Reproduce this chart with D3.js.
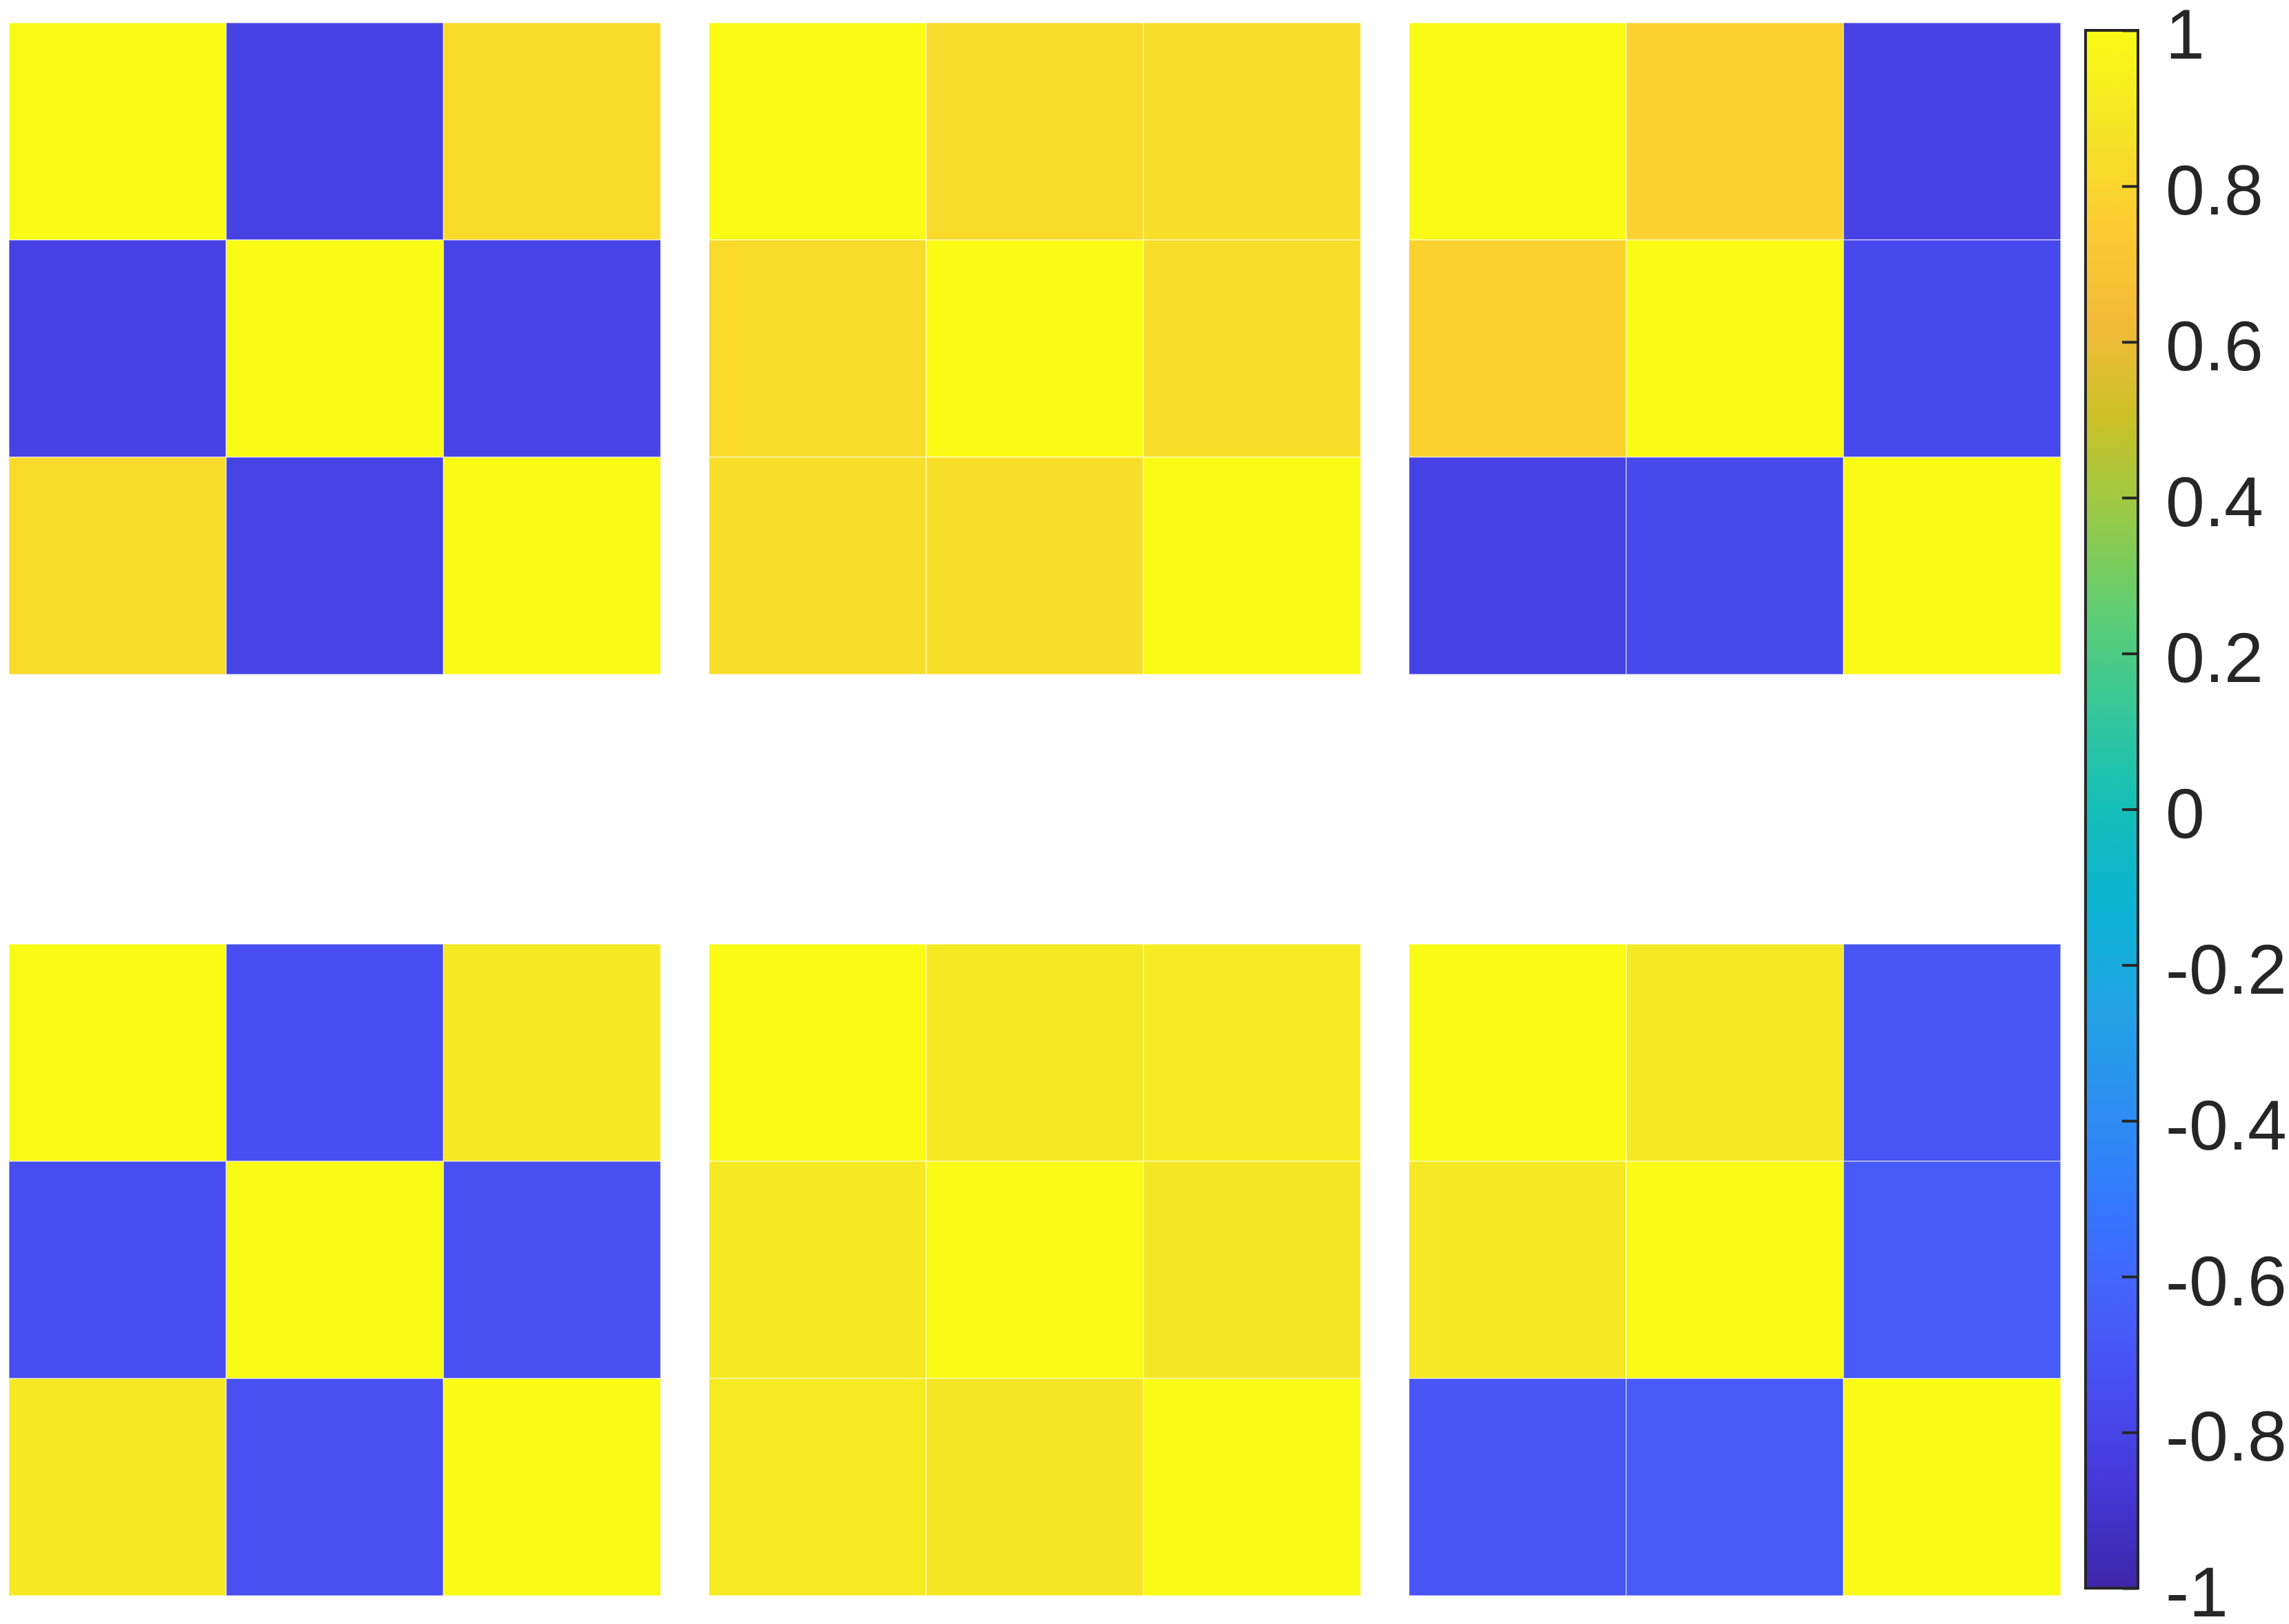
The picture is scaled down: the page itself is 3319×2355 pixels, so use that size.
<!DOCTYPE html>
<html>
<head>
<meta charset="utf-8">
<script src="https://cdn.jsdelivr.net/npm/d3@7"></script>
<style>
  body { margin: 0; background: #fff; }
  svg { display: block; }
</style>
</head>
<body>
<div id="chart"></div>
<script>
'use strict';

// correlation matrices (row by row)
const topLeft     = [[1, -0.81, 0.82], [-0.81, 1, -0.80], [0.82, -0.80, 1]];
const topMid      = [[1, 0.82, 0.84], [0.82, 1, 0.84], [0.84, 0.84, 1]];
const topRight    = [[1, 0.78, -0.81], [0.78, 1, -0.77], [-0.81, -0.77, 1]];
const bottomLeft  = [[1, -0.74, 0.90], [-0.74, 1, -0.73], [0.90, -0.73, 1]];
const bottomMid   = [[1, 0.90, 0.91], [0.90, 1, 0.88], [0.91, 0.88, 1]];
const bottomRight = [[1, 0.89, -0.70], [0.89, 1, -0.67], [-0.70, -0.67, 1]];

const panels = [topLeft, topMid, topRight, bottomLeft, bottomMid, bottomRight];

const colorbarTicks = [-1, -0.8, -0.6, -0.4, -0.2, 0, 0.2, 0.4, 0.6, 0.8, 1];
const tickLabels = ["-1", "-0.8", "-0.6", "-0.4", "-0.2", "0", "0.2", "0.4", "0.6", "0.8", "1"];

// parula colormap, sampled every 16th entry
const parula = ["#3e26a8", "#4537d5", "#484cf0", "#4562fc", "#337afd", "#2c90f0",
  "#21a3e3", "#0bb3d2", "#14beb8", "#35c79b", "#5ecd74", "#96ca48",
  "#cbc128", "#f3ba39", "#fdcb32", "#f5e526", "#f9fb15"];

const width = 3319, height = 2355;

const svg = d3.select("#chart")
  .append("svg")
    .attr("width", width)
    .attr("height", height);

const color = d3.scaleLinear()
  .domain(parula.map((c, i) => -1 + 2 * i / (parula.length - 1)))
  .range(parula)
  .clamp(true);

// panel grid: 3 columns, 2 rows
const colX = d3.scaleBand().domain([0, 1, 2]).range([13, 2988]).paddingInner(0.069);
const rowY = d3.scaleBand().domain([0, 1]).range([33, 2314]).paddingInner(0.2927);
const cell = d3.scaleBand().domain([0, 1, 2]).range([0, colX.bandwidth()]);

panels.forEach(function (m, p) {
  const g = svg.append("g")
    .attr("transform", "translate(" + colX(p % 3) + "," + rowY(Math.floor(p / 3)) + ")");

  const cells = [];
  m.forEach((row, r) => row.forEach((v, c) => cells.push({r: r, c: c, v: v})));

  g.selectAll("rect")
    .data(cells)
    .enter()
    .append("rect")
      .attr("x", d => cell(d.c))
      .attr("y", d => cell(d.r))
      .attr("width", cell.bandwidth())
      .attr("height", cell.bandwidth())
      .attr("fill", d => color(d.v))
      .attr("stroke", "rgba(255,255,255,0.55)")
      .attr("stroke-width", 1.5);
});

// colorbar
const cbX = 3024, cbW = 76;
const cbY = d3.scaleLinear().domain([-1, 1]).range([2303, 44]);

const grad = svg.append("defs").append("linearGradient")
  .attr("id", "parula")
  .attr("x1", 0).attr("y1", 1)
  .attr("x2", 0).attr("y2", 0);
grad.selectAll("stop")
  .data(parula)
  .enter()
  .append("stop")
    .attr("offset", (d, i) => i / (parula.length - 1))
    .attr("stop-color", d => d);

svg.append("rect")
  .attr("x", cbX)
  .attr("y", cbY(1))
  .attr("width", cbW)
  .attr("height", cbY(-1) - cbY(1))
  .attr("fill", "url(#parula)");

const axis = svg.append("g")
  .attr("transform", "translate(" + (cbX + cbW) + ",0)")
  .call(d3.axisRight(cbY)
    .tickValues(colorbarTicks)
    .tickFormat(d => tickLabels[colorbarTicks.indexOf(d)])
    .tickSize(-23)
    .tickPadding(40));

axis.select(".domain").remove();
axis.selectAll(".tick line")
  .attr("stroke", "#262626")
  .attr("stroke-width", 4);
axis.selectAll(".tick text")
  .attr("fill", "#262626")
  .attr("dy", "0.4em")
  .style("font-family", "'Liberation Sans', Arial, sans-serif")
  .style("font-size", "102px");

svg.append("rect")
  .attr("x", cbX)
  .attr("y", cbY(1))
  .attr("width", cbW)
  .attr("height", cbY(-1) - cbY(1))
  .attr("fill", "none")
  .attr("stroke", "#262626")
  .attr("stroke-width", 4);
</script>
</body>
</html>
